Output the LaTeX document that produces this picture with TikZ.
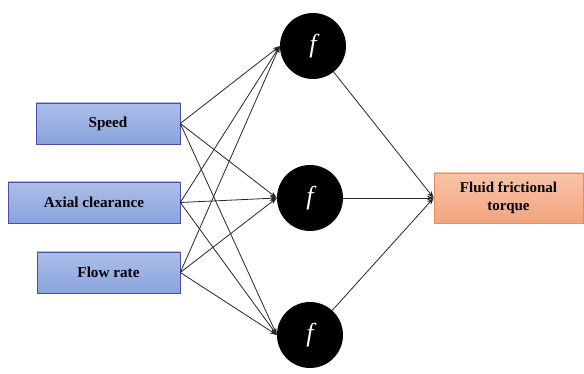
\documentclass[tikz,border=0pt]{standalone}
\usepackage{fontspec}
\setmainfont{Liberation Serif}
\usetikzlibrary{arrows.meta}
\begin{document}
\begin{tikzpicture}[x=1pt,y=-1pt,
  inbox/.style={draw=blue!55!black!70, line width=0.6pt, top color={rgb,255:red,172;green,191;blue,234}, bottom color={rgb,255:red,138;green,163;blue,220}, minimum height=41pt, inner sep=0pt, font=\fontsize{15.2}{17}\selectfont\bfseries},
  outbox/.style={draw={rgb,255:red,230;green,140;blue,100}, line width=0.6pt, top color={rgb,255:red,249;green,196;blue,168}, bottom color={rgb,255:red,241;green,164;blue,128}, minimum height=50pt, minimum width=149pt, inner sep=0pt, align=center, font=\fontsize{15}{18}\selectfont\bfseries},
  neuron/.style={circle, fill=black, minimum size=66pt, inner sep=0pt, text=white, font=\fontsize{26}{26}\selectfont\itshape},
  conn/.style={line width=0.8pt, black!85, -{Stealth[length=7pt,width=5pt]}}]
\useasboundingbox (0,0) rectangle (584,374);
\node[inbox, minimum width=144pt] (sp) at (108,123.5) {Speed};
\node[inbox, minimum width=172pt] (ax) at (94,202.5) {Axial clearance};
\node[inbox, minimum width=143pt] (fr) at (108.5,272.5) {Flow rate};
\node[neuron] (c1) at (313,46) {f};
\node[neuron] (c2) at (310,198) {f};
\node[neuron] (c3) at (310,335) {f};
\node[outbox] (out) at (508.5,198) {Fluid frictional\\torque};
\foreach \s in {sp,ax,fr}{
  \foreach \c in {c1,c2,c3}{
    \draw[conn] (\s.east) -- (\c.west);
  }
}
\foreach \c in {c1,c2,c3}{
  \draw[conn] (\c) -- (out.west);
}
\end{tikzpicture}
\end{document}
